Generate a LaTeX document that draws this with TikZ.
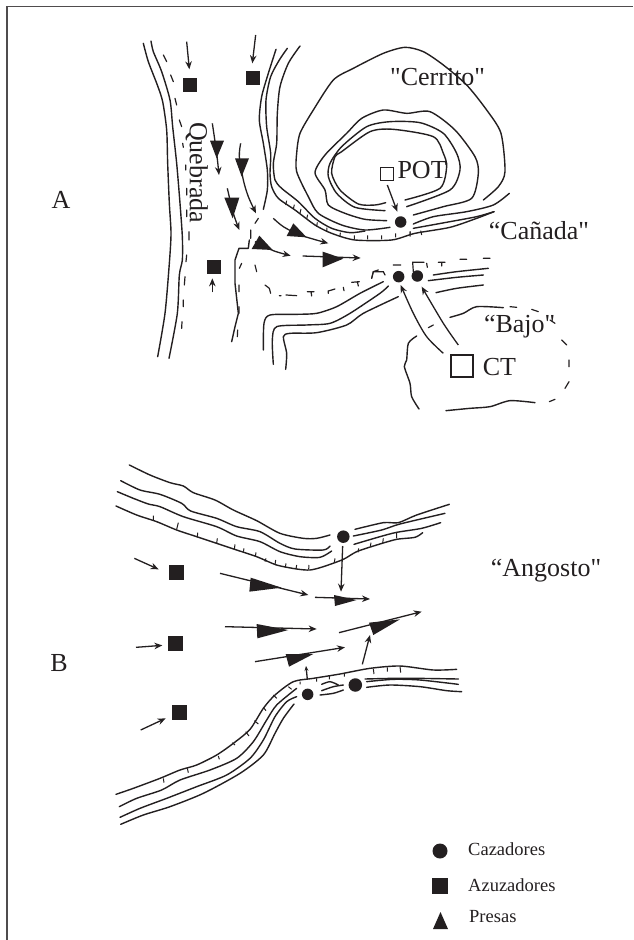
\documentclass[tikz,border=0pt]{standalone}
\usepackage{fontspec}
\setmainfont{Liberation Serif}[Ligatures=TeXOff]
\usetikzlibrary{arrows.meta}
\definecolor{ink}{HTML}{231F20}
\tikzset{
 contour/.style={draw=ink,line width=1.4pt,line join=round,line cap=round},
 tick/.style={draw=ink,line width=1pt},
 dashmark/.style={draw=ink,line width=1.2pt,line cap=round},
 arr/.style={draw=ink,line width=1.3pt,-{Stealth[length=8pt,width=6.5pt]}},
 prey/.style={fill=ink,draw=none},
 hunter/.style={circle,fill=ink,draw=none,inner sep=0pt},
 driver/.style={rectangle,fill=ink,draw=none,inner sep=0pt},
 camp/.style={rectangle,draw=ink,fill=white,inner sep=0pt},
 lab/.style={inner sep=0pt,text=ink,font=\fontsize{26}{26}\selectfont},
 leg/.style={inner sep=0pt,anchor=west,text=ink,font=\fontsize{18.5}{20}\selectfont}
}
\newcommand{\cont}[1]{\draw[contour] plot[smooth,tension=.45] coordinates {#1};}
\begin{document}
\begin{tikzpicture}[x=1pt,y=-1pt]
\useasboundingbox (0,0) rectangle (633,940);
\draw[draw=ink!80,line width=1.6pt] (7,940) -- (7,6.5) -- (633,6.5);
% ---------- Panel A, left part
\begin{scope}[shift={(120,30)},x=.33333pt,y=-.33333pt]
\cont{(70,40) (85,95) (112,165) (128,215) (140,300) (143,400) (148,520) (153,610) (148,700) (135,850) (113,980)}
\cont{(93,33) (100,65) (125,125) (150,210) (158,290) (170,400) (180,520) (187,620) (187,690) (178,735) (172,850) (147,985)}
\draw[dashmark] (130,75)--(140,95) (152,135)--(160,155) (165,205)--(170,225) (178,270)--(185,290) (188,340)--(190,352) (197,405)--(197,420) (200,475)--(200,495) (200,540)--(200,560) (207,605)--(207,630) (200,675)--(198,695) (195,740)--(193,765) (190,810)--(190,830) (186,875)--(185,895);
\cont{(468,58) (445,130) (425,200) (418,270) (430,340) (442,420) (442,480) (430,538)}
\cont{(502,55) (478,90) (452,140) (438,210) (440,290) (452,370) (450,430) (455,470) (475,505) (525,540) (585,585) (635,610) (705,630) (815,630) (885,610) (990,592) (1070,565) (1122,545)}
\cont{(540,48) (505,100) (480,170) (472,250) (470,340) (460,400) (465,450) (485,475) (535,515) (585,565) (635,595) (690,608) (735,603)}
\draw[tick] (497,525)--(500,512) (520,537)--(523,524) (540,550)--(543,537) (560,567)--(563,554) (590,590)--(592,577) (620,605)--(621,593) (660,620)--(661,608) (703,628)--(703,616) (743,628)--(743,616) (785,628)--(785,616) (827,622)--(827,610) (870,615)--(870,603);
% lower bank of the stream
\draw[contour] (388,630)--(385,655)--(357,655)--(345,690)--(345,760)--(355,850)--(345,890)--(335,935);
\draw[dashmark] (415,565)--(405,580) (392,600)--(392,625) (365,700)--(358,715) (357,765)--(357,785) (357,830)--(357,850) (353,900)--(352,920) (405,705)--(410,725) (435,765)--(448,775)--(452,790) (478,797)--(483,797) (498,795)--(530,797) (562,785)--(582,785) (573,785)--(575,798) (625,790)--(625,783)--(645,777) (670,772)--(672,782) (695,757)--(718,755) (712,755)--(715,768) (755,745)--(760,725)--(775,720);
\cont{(430,960) (432,880) (450,855) (530,853) (590,850) (650,830) (720,790) (790,755)}
\cont{(460,1003) (457,930) (470,890) (560,885) (630,880) (690,850) (780,790) (805,768)}
\cont{(497,1018) (500,970) (490,920) (510,910) (590,908) (680,885) (730,850) (835,800)}
\node[driver,minimum size=14pt] (d1) at (211,166) {};
\node[driver,minimum size=14pt] (d2) at (398,145) {};
\node[driver,minimum size=14pt] (d3) at (281,712) {};
\draw[arr] (200,35)--(208,118);
\draw[arr] (407,15)--(397,100);
\draw[arr] (277,787)--(277,745);
\draw[arr] plot[smooth] coordinates {(277,280) (290,370) (297,435)};
\fill[prey] (270,332)--(312,332)--(290,385)--cycle;
\draw[arr] plot[smooth] coordinates {(362,340) (358,380) (370,450) (385,500) (408,550)};
\fill[prey] (345,385)--(387,385)--(365,440)--cycle;
\draw[arr] plot[smooth] coordinates {(322,475) (340,550) (358,600)};
\fill[prey] (313,503)--(358,503)--(338,565)--cycle;
\draw[arr] plot[smooth] coordinates {(405,635) (460,662) (512,677)};
\fill[prey] (395,657)--(418,617)--(458,660)--cycle;
\draw[arr] plot[smooth] coordinates {(460,565) (490,590) (540,615) (625,640)};
\fill[prey] (500,618)--(520,580)--(560,622)--cycle;
\draw[arr] (548,678)--(722,684);
\fill[prey] (608,665)--(608,712)--(670,686)--cycle;
\node[lab,rotate=-90] (qb) at (230,428) {Quebrada};
\end{scope}
% ---------- Panel A, right part
\begin{scope}[shift={(270,30)},x=.33333pt,y=-.33333pt]
% Cerrito outer and its lower-left run to the hunter
\cont{(640,510) (685,470) (705,425) (693,310) (650,240) (590,165) (520,105) (460,65) (405,52) (340,70) (250,115) (190,150) (130,240) (90,310) (80,370) (80,425) (115,500) (145,550) (215,585) (285,600) (360,592)}
% rings
\cont{(350,572) (285,568) (225,550) (175,525) (165,480) (135,428) (165,375) (230,310) (275,265) (340,240) (410,250) (480,245) (555,300) (615,380) (625,430) (605,505) (520,530) (430,555)}
\cont{(345,542) (255,532) (200,490) (175,440) (180,400) (215,350) (290,290) (360,275) (450,278) (520,310) (560,370) (570,420) (540,480) (410,530)}
\cont{(347,518) (315,525) (265,522) (210,480) (185,430) (195,380) (215,365) (300,305) (370,298) (490,320) (520,370) (530,410) (510,475) (405,510)}
\cont{(430,582) (490,560) (590,545) (670,525) (718,490)}
\cont{(430,595) (540,575) (620,560) (672,545)}
\draw[tick] (420,620)--(420,606) (455,615)--(452,602);
\draw[dashmark] (305,745)--(310,725)--(340,725)--(345,735) (370,705)--(392,705) (430,725)--(428,697)--(462,697) (470,700)--(472,712) (505,697)--(525,697) (515,697)--(515,708) (570,688)--(590,688) (640,685)--(660,685);
\cont{(490,735) (560,725) (655,715)}
\cont{(475,752) (560,742) (640,735)}
\cont{(498,788) (560,775) (640,765)}
% Bajo
\cont{(540,862) (580,850) (620,830) (700,833)}
\draw[dashmark] (720,830)--(740,832) (785,838)--(805,845) (840,870)--(855,880) (875,930)--(890,945) (897,990)--(897,1010) (897,1055)--(885,1075) (855,1108)--(838,1115) (475,893)--(490,885);
\cont{(795,1118) (720,1112) (660,1130) (600,1135) (528,1142)}
\cont{(440,918) (415,940) (410,990) (403,1010) (420,1060) (425,1100) (447,1137)}
\node[hunter,minimum size=11.5pt] (h1) at (392,576) {};
\node[hunter,minimum size=11.5pt] (h2) at (386,740) {};
\node[hunter,minimum size=11.5pt] (h3) at (442,738) {};
\node[camp,minimum size=13pt,line width=.9pt] (pot) at (352,432) {};
\node[camp,minimum size=22pt,line width=1.2pt] (ct) at (576,1008) {};
\draw[arr] (352,465)--(382,545);
\draw[arr] plot[smooth] coordinates {(520,970) (470,920) (430,850) (392,765)};
\draw[arr] plot[smooth] coordinates {(565,945) (520,880) (455,770)};
\node[lab,anchor=west] (lpot) at (382,420) {POT};
\node[lab,anchor=west] (lct) at (638,1010) {CT};
\node[lab] (lcer) at (503,140) {"Cerrito"};
\node[lab] (lcan) at (807,603) {“Cañada"};
\node[lab] (lbaj) at (749,890) {“Bajo"};
\end{scope}
\node[lab] (la) at (61,200) {A};
\node[lab] (lb) at (59,663) {B};
\node[lab] (lang) at (546,571) {“Angosto"};
% ---------- Panel B, upper bank
\begin{scope}[shift={(100,450)},x=.33333pt,y=-.33333pt]
\cont{(88,45) (150,75) (210,98) (250,108) (280,128) (345,150) (400,180) (470,212) (540,250) (610,265) (650,265) (690,255)}
\cont{(62,92) (120,120) (180,133) (245,160) (272,183) (350,205) (410,230) (480,245) (540,280) (585,297) (670,300) (690,288)}
\cont{(52,125) (100,145) (145,162) (180,170) (250,200) (350,230) (410,258) (480,275) (540,305) (600,320) (660,322) (695,303)}
\cont{(48,168) (110,195) (170,215) (230,240) (290,260) (350,280) (410,300) (470,320) (530,345) (590,357) (630,360) (670,350) (730,328) (770,305) (830,285) (890,268) (945,262) (968,248)}
\cont{(765,238) (850,218) (895,218) (950,195) (1048,163)}
\cont{(760,258) (845,240) (900,222) (1035,190)}
\cont{(762,283) (840,260) (890,247) (965,235) (1022,218)}
\draw[tick] (890,248)--(890,265) (160,197)--(160,212) (235,218)--(230,238) (293,248)--(292,262) (352,265)--(350,280) (405,283)--(403,298) (432,295)--(430,305) (468,307)--(466,320) (498,325)--(495,335) (527,330)--(525,345) (558,340)--(556,352) (590,345)--(588,357) (627,345)--(626,358) (705,325)--(703,337) (776,295)--(774,307) (813,278)--(811,290) (850,265)--(848,280);
\node[hunter,minimum size=12.5pt] (h4) at (730,260) {};
\node[driver,minimum size=14.5pt] (d4) at (230,367) {};
\node[driver,minimum size=14.5pt] (d5) at (227,580) {};
\draw[arr] (728,288)--(723,425);
\draw[arr] (103,325)--(176,358);
\draw[arr] (108,592)--(187,586);
\draw[arr] (360,370)--(625,435);
\fill[prey] (452,383)--(448,425)--(545,413)--cycle;
\draw[arr] (645,442)--(810,447);
\fill[prey] (702,435)--(705,468)--(770,450)--cycle;
\draw[arr] (375,530)--(650,537);
\fill[prey] (470,522)--(472,565)--(565,540)--cycle;
\draw[arr] (717,548)--(965,485);
\fill[prey] (807,518)--(820,555)--(900,508)--cycle;
\end{scope}
% ---------- Panel B, lower bank
\begin{scope}[shift={(100,630)},x=.33333pt,y=-.33333pt]
\cont{(48,493) (100,475) (180,445) (240,420) (290,405) (350,375) (400,340) (450,298) (490,235) (525,195) (580,155) (640,145) (720,132) (810,115) (900,108) (1000,120) (1070,118)}
\cont{(58,530) (110,505) (185,480) (240,450) (330,420) (410,385) (460,335) (500,270) (530,225) (590,175)}
\cont{(60,562) (120,535) (200,505) (290,470) (380,435) (450,385) (490,330) (525,260) (560,215) (590,200)}
\cont{(62,583) (130,555) (210,530) (310,490) (420,430) (490,375) (525,310) (550,265) (582,222)}
\cont{(795,147) (880,145) (950,145) (1075,147)}
\cont{(800,155) (880,148) (960,150) (1075,163)}
\cont{(800,172) (870,165) (960,170) (1040,182) (1085,185)}
\cont{(665,163) (690,155) (715,165)}
\cont{(665,182) (700,170) (730,165)}
\cont{(660,195) (700,190) (730,180)}
\draw[tick] (190,445)--(192,458) (262,415)--(265,428) (355,378)--(358,388) (397,338)--(405,345) (437,305)--(447,318) (463,272)--(475,282) (490,232)--(498,242) (520,195)--(530,205) (565,170)--(575,178) (600,155)--(600,163) (650,145)--(650,155) (688,138)--(688,148) (733,130)--(733,140) (820,117)--(822,132) (862,112)--(862,125) (900,108)--(902,128);
\node[hunter,minimum size=11.5pt] (h5) at (623,193) {};
\node[hunter,minimum size=13.5pt] (h6) at (766,165) {};
\node[driver,minimum size=15pt] (d6) at (237,248) {};
\draw[arr] (122,300)--(197,265);
\draw[arr] (465,95)--(735,52);
\fill[prey] (557,72)--(567,110)--(640,72)--cycle;
\draw[arr,-{Stealth[length=5pt,width=4pt]}] (622,148)--(618,108);
\draw[arr] (787,103)--(810,15);
\end{scope}
% ---------- Legend
\node[hunter,minimum size=15pt] (k1) at (440,851) {};
\node[driver,minimum size=15.5pt] (k2) at (440,886) {};
\fill[prey] (433,929)--(448,929)--(440.5,912)--cycle;
\node[leg] (t1) at (468,849) {Cazadores};
\node[leg] (t2) at (468,885) {Azuzadores};
\node[leg] (t3) at (469,917) {Presas};
\end{tikzpicture}
\end{document}
